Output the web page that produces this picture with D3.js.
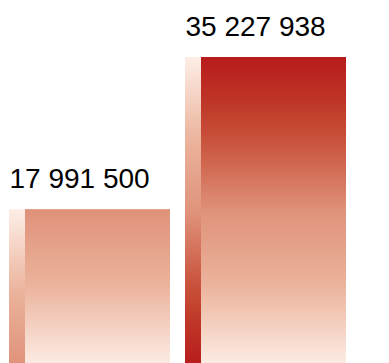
<!DOCTYPE html>
<html><head><meta charset="utf-8">
<script src="https://cdn.jsdelivr.net/npm/d3@7"></script>
<style>body{margin:0;background:#fff;overflow:hidden}svg{display:block}</style>
</head><body>
<script>
const categories = ["A", "B"];
const values = [17991500, 35227938];
const labels = ["17 991 500", "35 227 938"];

const W = 389, H = 363;
const svg = d3.select("body").append("svg").attr("width", W).attr("height", H);
const x = d3.scaleBand().domain(categories).range([9, 346]).paddingInner(15 / 176).paddingOuter(0);
const y = d3.scaleLinear().domain([0, d3.max(values)]).range([368, 57]);
const color = d3.scaleLinear()
  .domain([0, 0.27, 0.5, 0.73, 0.86, 1])
  .range(["#fdeee6", "#ebb29b", "#e0937b", "#c9533c", "#be3526", "#b71b1b"]);
const maxV = d3.max(values);
const defs = svg.append("defs");
const stripW = 16;

values.forEach((v, i) => {
  const frac = v / maxV;
  const mk = (id, rev) => {
    const g = defs.append("linearGradient").attr("id", id)
      .attr("x1", 0).attr("y1", rev ? 0 : 1).attr("x2", 0).attr("y2", rev ? 1 : 0);
    d3.range(0, 1.0001, 0.05).forEach(t => {
      g.append("stop").attr("offset", t).attr("stop-color", color(t * frac));
    });
  };
  mk("g" + i, false);
  mk("r" + i, true);
  const bx = x(categories[i]), bw = x.bandwidth();
  svg.append("rect").attr("x", bx).attr("y", y(v)).attr("width", stripW)
    .attr("height", y(0) - y(v)).attr("fill", `url(#r${i})`);
  svg.append("rect").attr("x", bx + stripW).attr("y", y(v)).attr("width", bw - stripW)
    .attr("height", y(0) - y(v)).attr("fill", `url(#g${i})`);
  svg.append("text").attr("x", bx + 0.5).attr("y", y(v) - 21)
    .attr("font-family", "Liberation Sans, Arial, sans-serif").attr("font-size", 28)
    .attr("fill", "#000").text(labels[i]);
});
</script>
</body></html>
